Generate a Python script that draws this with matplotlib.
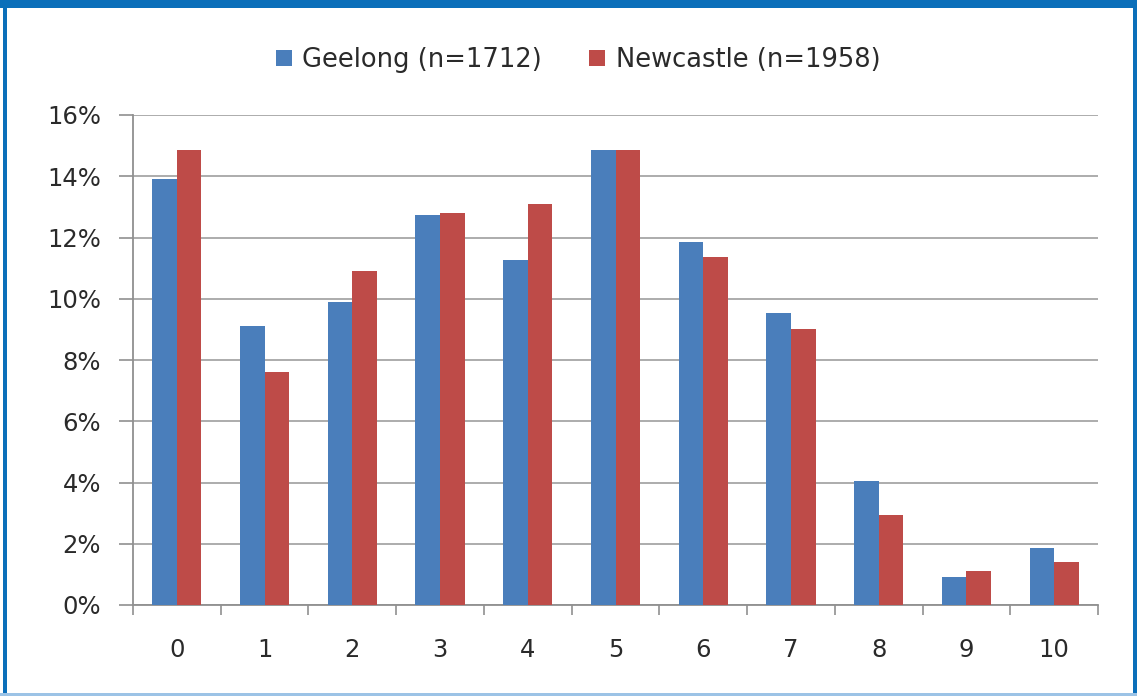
import matplotlib
matplotlib.use("Agg")
import matplotlib.pyplot as plt
import numpy as np
from matplotlib.patches import Rectangle

categories = ["0", "1", "2", "3", "4", "5", "6", "7", "8", "9", "10"]
geelong = [13.9, 9.1, 9.9, 12.75, 11.25, 14.85, 11.85, 9.55, 4.05, 0.9, 1.85]
newcastle = [14.85, 7.6, 10.9, 12.8, 13.1, 14.85, 11.35, 9.0, 2.95, 1.1, 1.4]
series_labels = ["Geelong (n=1712)", "Newcastle (n=1958)"]
yticks = [0, 2, 4, 6, 8, 10, 12, 14, 16]

blue = "#4a7ebb"
red = "#be4b48"
W, H = 1137, 696
fig = plt.figure(figsize=(W / 100, H / 100), dpi=100)
plt.rcParams['font.family'] = ['DejaVu Sans']

# frame
fig.patches.append(Rectangle((0, 0), 1, 1, transform=fig.transFigure, facecolor="white", edgecolor="none", zorder=-10))
fig.patches.append(Rectangle((0, 1 - 8 / H), 1, 8 / H, transform=fig.transFigure, facecolor="#0b6fba", edgecolor="none"))
fig.patches.append(Rectangle((3 / W, 0), 4 / W, 1, transform=fig.transFigure, facecolor="#0b6fba", edgecolor="none"))
fig.patches.append(Rectangle((1 - 4 / W, 0), 4 / W, 1, transform=fig.transFigure, facecolor="#0b6fba", edgecolor="none"))
fig.patches.append(Rectangle((0, 0), 1, 3 / H, transform=fig.transFigure, facecolor="#9cc3e6", edgecolor="none"))

left, right = 133, 1098
top, bottom = 115, 605
ax = fig.add_axes([left / W, 1 - bottom / H, (right - left) / W, (bottom - top) / H])

x = np.arange(len(categories))
bw = 0.28
ax.bar(x - bw / 2, geelong, bw, color=blue, label=series_labels[0], zorder=3)
ax.bar(x + bw / 2, newcastle, bw, color=red, label=series_labels[1], zorder=3)

ax.set_xlim(-0.5, len(categories) - 0.5)
ax.set_ylim(0, 16)
ax.set_yticks(yticks)
ax.set_yticklabels([f"{v}%" for v in yticks])
ax.set_xticks(x)
ax.set_xticklabels(categories)
ax.set_xticks(np.arange(-0.5, len(categories)), minor=True)
ax.tick_params(axis="x", which="major", length=0, pad=24, labelsize=17.5, labelcolor="#2a2a2a")
ax.tick_params(axis="x", which="minor", length=7, width=1.2, color="#909090", direction="out")
ax.tick_params(axis="y", length=10, width=1.2, color="#909090", pad=13, labelsize=17.5, labelcolor="#2a2a2a")

ax.grid(axis="y", color="#a6a6a6", linewidth=1.3, zorder=0)
for s in ["top", "right"]:
    ax.spines[s].set_visible(False)
for s in ["left", "bottom"]:
    ax.spines[s].set_color("#909090")
    ax.spines[s].set_linewidth(1.3)

leg = fig.legend(loc="center", bbox_to_anchor=(578 / W, 1 - 60 / H), ncol=2, frameon=False,
                 fontsize=18.5, handlelength=0.62, handleheight=0.62, handletextpad=0.4,
                 columnspacing=1.85, labelcolor="#2a2a2a")

fig.savefig("out.png", dpi=100)
